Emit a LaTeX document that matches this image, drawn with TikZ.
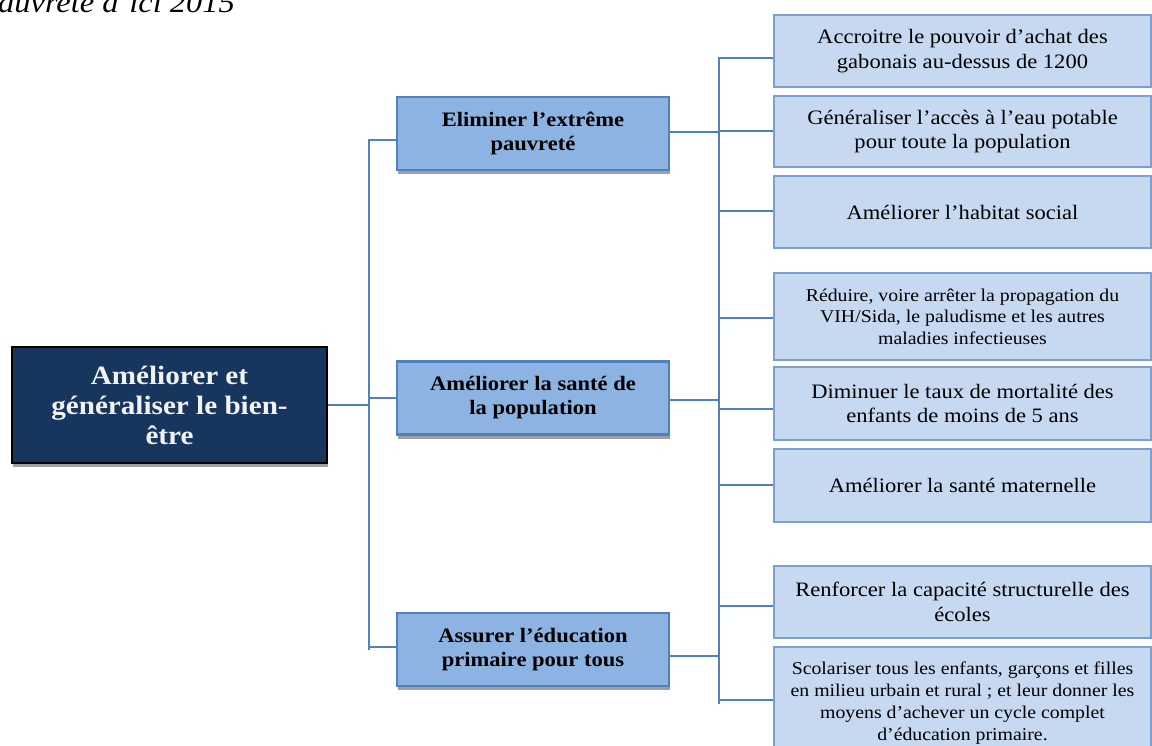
\documentclass[tikz,border=0pt]{standalone}
\usepackage{fontspec}
\setmainfont{Liberation Serif}[FakeStretch=1.1]
\usepackage{xcolor}
\definecolor{navyBox}{HTML}{17365D}
\definecolor{midBlue}{HTML}{8DB3E2}
\definecolor{lineBlue}{HTML}{4F81BD}
\definecolor{paleBlue}{HTML}{C6D9F1}
\definecolor{paleEdge}{HTML}{7BA0D0}
\definecolor{lightText}{HTML}{F2F2F2}
\usepackage{tikz}
\usetikzlibrary{shadows, positioning}

\begin{document}
\begin{tikzpicture}[
    x=1pt, y=-1pt,
    rootNode/.style={fill=navyBox, draw=black, line width=2.5pt, minimum width=315pt, minimum height=116pt, inner sep=0pt, align=center, font=\fontsize{26.5}{30}\selectfont\bfseries\color{lightText}, drop shadow={shadow xshift=1pt, shadow yshift=-4pt, fill=gray!75, opacity=1}},
    goalNode/.style={fill=midBlue, draw=lineBlue, line width=2.2pt, minimum width=272pt, minimum height=73pt, inner sep=0pt, align=center, font=\fontsize{20.5}{24}\selectfont\bfseries, drop shadow={shadow xshift=1pt, shadow yshift=-4pt, fill=gray!75, opacity=1}},
    actNode/.style={fill=paleBlue, draw=paleEdge, line width=1.5pt, minimum width=377pt, minimum height=72pt, inner sep=0pt, align=center, font=\fontsize{20.5}{24.5}\selectfont},
    linkLine/.style={draw=lineBlue, line width=2pt}
]
\useasboundingbox (0,0) rectangle (1152,746);
\clip (0,0) rectangle (1152,746);

\node[anchor=base west, inner sep=0pt, font=\fontsize{29.5}{34}\selectfont\itshape] (caption) at (-2,13) {auvreté d’ici 2015};

\node[rootNode] (root) at (169.5,405) {Améliorer et\\généraliser le bien-\\être};

\node[goalNode] (g1) at (533,133.5) {Eliminer l’extrême\\pauvreté};
\node[goalNode] (g2) at (533,398) {Améliorer la santé de\\la population};
\node[goalNode] (g3) at (533,649.5) {Assurer l’éducation\\primaire pour tous};

\node[actNode] (a1) at (962.5,51) {Accroitre le pouvoir d’achat des\\gabonais au-dessus de 1200};
\node[actNode, minimum height=71pt] (a2) at (962.5,131.5) {Généraliser l’accès à l’eau potable\\pour toute la population};
\node[actNode] (a3) at (962.5,212) {Améliorer l’habitat social};
\node[actNode, minimum height=87pt, font=\fontsize{18}{21.5}\selectfont] (a4) at (962.5,316.5) {Réduire, voire arrêter la propagation du\\VIH/Sida, le paludisme et les autres\\maladies infectieuses};
\node[actNode, minimum height=73pt] (a5) at (962.5,403.5) {Diminuer le taux de mortalité des\\enfants de moins de 5 ans};
\node[actNode, minimum height=73pt] (a6) at (962.5,485.5) {Améliorer la santé maternelle};
\node[actNode] (a7) at (962.5,602) {Renforcer la capacité structurelle des\\écoles};
\node[actNode, minimum height=113pt, font=\fontsize{18}{22}\selectfont] (a8) at (962.5,703.5) {Scolariser tous les enfants, garçons et filles\\en milieu urbain et rural ; et leur donner les\\moyens d’achever un cycle complet\\d’éducation primaire.};

% Links
\coordinate (leftTrunk) at (369,0);
\coordinate (rightTrunk) at (719,0);
\draw[linkLine] (root.east) -- (root.east -| leftTrunk);
\draw[linkLine] (g1.west) ++(0,6.5) -| (leftTrunk |- g3.west);
\draw[linkLine] (g3.west) ++(0,-2.5) -- ++(-28,0);
\draw[linkLine] (g2.west) -- ++(-28,0);
\draw[linkLine] (a1.west) ++(0,7) -| (rightTrunk |- a8.west);
\foreach \a/\d in {a2/-0.5,a3/-1,a4/1.5,a5/5.5,a6/-0.5,a7/4,a8/-3.5}
  \draw[linkLine] (\a.west) ++(0,\d) -- ++(-55,0);
\foreach \g/\d in {g1/-1.5,g2/2,g3/6.5}
  \draw[linkLine] (\g.east) ++(0,\d) -- ++(50,0);

\end{tikzpicture}
\end{document}
